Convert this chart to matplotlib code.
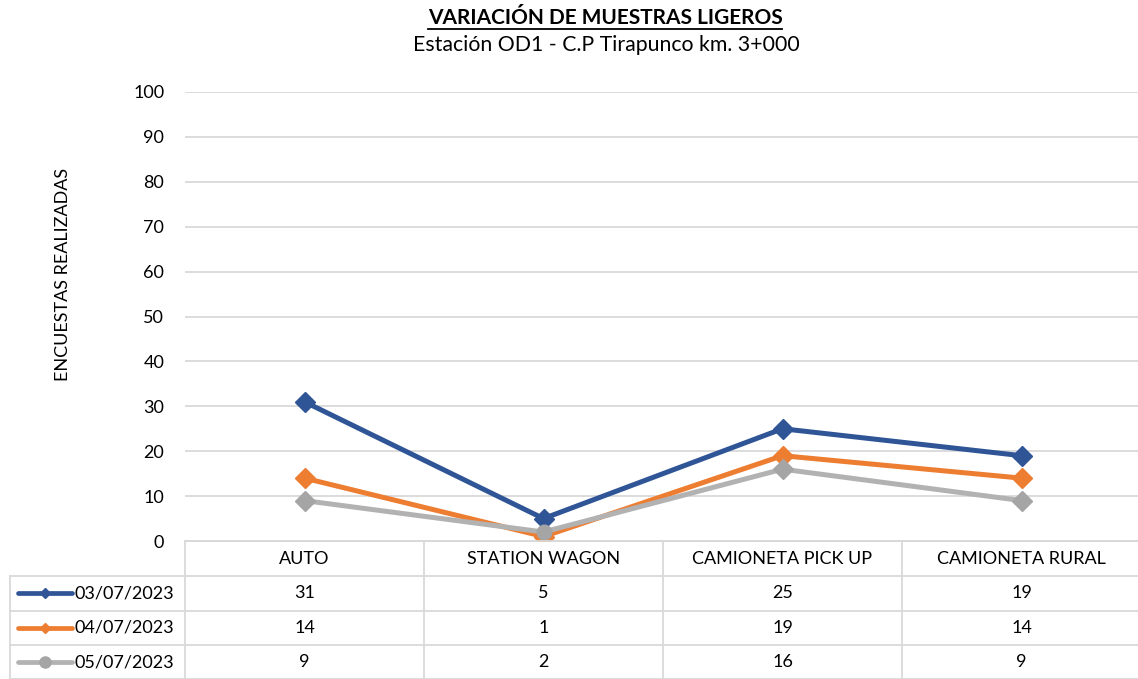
import matplotlib
matplotlib.use("Agg")
import matplotlib.pyplot as plt
from matplotlib.lines import Line2D

plt.rcParams['font.family'] = ['Lato', 'DejaVu Sans']

categories = ['AUTO', 'STATION WAGON', 'CAMIONETA PICK UP', 'CAMIONETA RURAL']
dates = ['03/07/2023', '04/07/2023', '05/07/2023']
v_0307 = [31, 5, 25, 19]
v_0407 = [14, 1, 19, 14]
v_0507 = [9, 2, 16, 9]
series = [v_0307, v_0407, v_0507]
colors = ['#2F5597', '#ED7D31', '#A5A5A5']
line_colors = ['#2F5597', '#ED7D31', '#B2B2B2']
yticks = list(range(0, 101, 10))

W, H = 1138, 679
fig = plt.figure(figsize=(W / 100, H / 100), dpi=100)

# pixel layout
x0, x1 = 185, 1141
y_top, y_bot = 92, 541
cw = (x1 - x0) / len(categories)

ax = fig.add_axes([x0 / W, 1 - y_bot / H, (x1 - x0) / W, (y_bot - y_top) / H])
ax.set_xlim(-0.5, len(categories) - 0.5)
ax.set_ylim(0, 100)
ax.set_yticks(yticks)
ax.set_xticks([])
ax.tick_params(axis='y', length=0, pad=15, labelsize=13, colors='#000000')
for s in ['top', 'right', 'left']:
    ax.spines[s].set_visible(False)
ax.spines['bottom'].set_color('#D9D9D9')
ax.spines['bottom'].set_linewidth(1.3)
ax.grid(axis='y', color='#D9D9D9', linewidth=1.3)
ax.set_axisbelow(True)

xs = list(range(len(categories)))
for i, (vals, c, lc) in enumerate(zip(series, colors, line_colors)):
    ax.plot(xs, vals, color=lc, linewidth=3.6, zorder=3 + i * 0.1,
            marker='D', markersize=10, markerfacecolor=c, markeredgecolor=c,
            markevery=[0, 1, 2, 3] if i < 2 else [0, 2, 3])
    if i == 2:
        ax.plot(xs, vals, linestyle='none', marker='o', markersize=10.5,
                markerfacecolor=c, markeredgecolor=c, markevery=[1], zorder=3.5)

# title
t = fig.text(605 / W, 1 - 18 / H, 'VARIACIÓN DE MUESTRAS LIGEROS', ha='center', va='center',
             fontsize=15, fontweight='bold')
fig.text(606 / W, 1 - 45 / H, 'Estación OD1 - C.P Tirapunco km. 3+000', ha='center', va='center',
         fontsize=15.3)
fig.canvas.draw()
bb = t.get_window_extent()
fig.add_artist(Line2D([bb.x0 / W, bb.x1 / W], [(bb.y0 - 1) / H, (bb.y0 - 1) / H],
                      color='black', linewidth=1.3, transform=fig.transFigure))

fig.text(63 / W, 1 - 274 / H, 'ENCUESTAS REALIZADAS', rotation=90, ha='center', va='center',
         fontsize=13)

# data table in pixel coordinates
tax = fig.add_axes([0, 0, 1, 1])
tax.set_xlim(0, W)
tax.set_ylim(H, 0)
tax.axis('off')
gc = '#D9D9D9'
rows_y = [541, 576, 610.5, 645, 679]
tax.plot([x0, x1], [rows_y[0], rows_y[0]], color=gc, lw=1.3)
for y in rows_y[1:]:
    tax.plot([10, x1], [y, y], color=gc, lw=1.3)
tax.plot([10, 10], [rows_y[1], rows_y[-1]], color=gc, lw=1.3)
for k in range(len(categories) + 1):
    xv = x0 + k * cw
    tax.plot([xv, xv], [rows_y[0], rows_y[-1]], color=gc, lw=1.3)

for k, cat in enumerate(categories):
    tax.text(x0 + (k + 0.5) * cw, (rows_y[0] + rows_y[1]) / 2, cat, ha='center', va='center',
             fontsize=13)

for r, (d, vals, c, lc) in enumerate(zip(dates, series, colors, line_colors)):
    yc = (rows_y[r + 1] + rows_y[r + 2]) / 2
    tax.plot([18, 72], [yc, yc], color=lc, lw=3.4, solid_capstyle='round')
    tax.plot([45], [yc], marker='D' if r < 2 else 'o', markersize=5 if r < 2 else 8,
             color=c, markeredgecolor=c)
    tax.text(75, yc, d, ha='left', va='center', fontsize=13)
    for k, v in enumerate(vals):
        tax.text(x0 + (k + 0.5) * cw, yc, str(v), ha='center', va='center', fontsize=13)

fig.savefig('out.png', dpi=100)
